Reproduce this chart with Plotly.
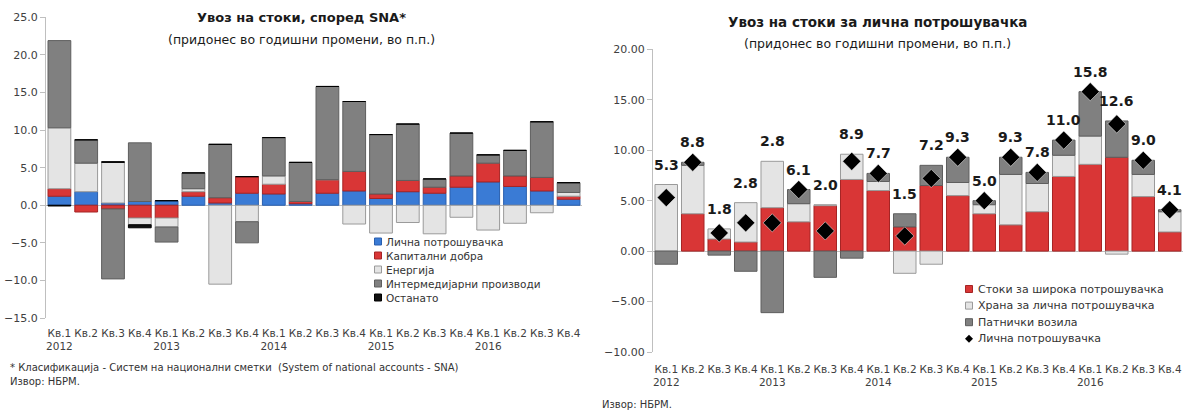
import plotly.graph_objects as go

# ---------------- data ----------------
quarters = ["Кв.1", "Кв.2", "Кв.3", "Кв.4"] * 5
years = ["2012", "", "", "", "2013", "", "", "", "2014", "", "", "",
         "2015", "", "", "", "2016", "", "", ""]

# Imports of goods by SNA classification (contribution, p.p.)
sna_consumption = [1.2, 1.8, 0.3, 0.5, 0.6, 1.2, 0.3, 1.6, 1.5, 0.2,
                   1.6, 1.9, 0.9, 1.8, 1.6, 2.4, 3.1, 2.5, 1.9, 0.8]
sna_capital = [1.0, -0.9, -0.5, -1.7, -1.7, 0.6, 0.7, 2.2, 1.3, 0.3,
               1.8, 2.6, 0.6, 1.5, 0.8, 1.5, 2.5, 1.4, 1.8, 0.4]
sna_energy = [8.1, 3.8, 5.4, -0.9, -1.2, 0.4, -10.5, -2.2, 1.1, 0.0,
              0.0, -2.5, -3.7, -2.3, -3.8, -1.6, -3.3, -2.4, -1.0, 0.5]
sna_intermediate = [11.6, 3.1, -9.3, 7.8, -2.0, 2.1, 7.1, -2.8, 5.1, 5.2,
                    12.4, 9.3, 7.9, 7.5, 1.1, 5.7, 1.1, 3.4, 7.4, 1.3]
sna_other = [-0.1, 0.0, 0.1, -0.4, 0.0, 0.0, 0.0, 0.0, 0.0, 0.0,
             0.0, 0.0, 0.0, 0.0, 0.0, 0.0, 0.0, 0.0, 0.0, 0.0]

# Imports of goods for personal consumption (contribution, p.p.)
pc_durables = [0.0, 3.7, 1.2, 0.9, 4.3, 2.9, 4.5, 7.1, 6.0, 2.4,
               6.5, 5.5, 3.7, 2.6, 3.9, 7.4, 8.6, 9.3, 5.4, 1.9]
pc_food = [6.6, 4.8, 1.0, 3.9, 4.6, 1.8, 0.1, 2.5, 0.9, -2.2,
           -1.3, 1.3, 0.9, 5.0, 2.8, 2.1, 2.8, -0.3, 2.2, 2.0]
pc_vehicles = [-1.3, 0.3, -0.4, -2.0, -6.1, 1.4, -2.6, -0.7, 0.8, 1.3,
               2.0, 2.5, 0.4, 1.7, 1.1, 1.5, 4.4, 3.6, 1.4, 0.2]
pc_total = [5.3, 8.8, 1.8, 2.8, 2.8, 6.1, 2.0, 8.9, 7.7, 1.5,
            7.2, 9.3, 5.0, 9.3, 7.8, 11.0, 15.8, 12.6, 9.0, 4.1]

# ---------------- styling ----------------
FONT = "DejaVu Sans"
TXT = "#404040"
AX = "#BFBFBF"
W, H = 1186, 412


def px(xp):
    return xp / W


def py(yp):
    return 1 - yp / H


x = list(range(len(quarters)))
ticktext = [q + "<br>" + (y if y else " ") for q, y in zip(quarters, years)]

fig = go.Figure()

left_series = [
    ("Лична потрошувачка", sna_consumption, "#3A7BD5", "#2A5FAE"),
    ("Капитални добра", sna_capital, "#D93636", "#A52424"),
    ("Енергија", sna_energy, "#E4E4E4", "#9A9A9A"),
    ("Интермедијарни производи", sna_intermediate, "#808080", "#5E5E5E"),
    ("Останато", sna_other, "#111111", "#000000"),
]
for name, vals, col, edge in left_series:
    fig.add_trace(go.Bar(
        x=x, y=vals, name=name, xaxis="x", yaxis="y",
        marker=dict(color=col, line=dict(color=edge, width=1)),
        showlegend=False, hoverinfo="skip",
    ))

right_series = [
    ("Стоки за широка потрошувачка", pc_durables, "#D93636", "#A52424"),
    ("Храна за лична потрошувачка", pc_food, "#E4E4E4", "#9A9A9A"),
    ("Патнички возила", pc_vehicles, "#808080", "#5E5E5E"),
]
for name, vals, col, edge in right_series:
    fig.add_trace(go.Bar(
        x=x, y=vals, name=name, xaxis="x2", yaxis="y2",
        marker=dict(color=col, line=dict(color=edge, width=1)),
        showlegend=False, hoverinfo="skip",
    ))

fig.add_trace(go.Scatter(
    x=x, y=pc_total, name="Лична потрошувачка", mode="markers",
    xaxis="x2", yaxis="y2", showlegend=False,
    marker=dict(symbol="diamond", size=14, color="#000000",
                line=dict(color="#FFFFFF", width=0.5)),
    hoverinfo="skip",
))

# value labels above each stacked column
annotations = []
for i, tot in enumerate(pc_total):
    pos_top = sum(v for v in (pc_durables[i], pc_food[i], pc_vehicles[i]) if v > 0)
    annotations.append(dict(
        x=i, y=max(tot, pos_top), xref="x2", yref="y2",
        text=f"<b>{tot:.1f}</b>", showarrow=False, yanchor="bottom", yshift=10,
        font=dict(family=FONT, size=14, color="#1A1A1A"),
    ))

annotations += [
    dict(text="<b>Увоз на стоки, според SNA*</b>", x=px(301), y=py(18),
         xref="paper", yref="paper", showarrow=False, xanchor="center", yanchor="middle",
         font=dict(family=FONT, size=13, color="#1A1A1A")),
    dict(text="(придонес во годишни промени, во п.п.)", x=px(301), y=py(40),
         xref="paper", yref="paper", showarrow=False, xanchor="center", yanchor="middle",
         font=dict(family=FONT, size=12.5, color="#1A1A1A")),
    dict(text="<b>Увоз на стоки за лична потрошувачка</b>", x=px(877), y=py(22),
         xref="paper", yref="paper", showarrow=False, xanchor="center", yanchor="middle",
         font=dict(family=FONT, size=13.5, color="#1A1A1A")),
    dict(text="(придонес во годишни промени, во п.п.)", x=px(877), y=py(44),
         xref="paper", yref="paper", showarrow=False, xanchor="center", yanchor="middle",
         font=dict(family=FONT, size=12.5, color="#1A1A1A")),
    dict(text="* Класификација - Систем на национални сметки  (System of national accounts - SNA)",
         x=px(8), y=py(367), xref="paper", yref="paper", showarrow=False,
         xanchor="left", yanchor="middle", font=dict(family=FONT, size=10, color="#333333")),
    dict(text="Извор: НБРМ.", x=px(8), y=py(381), xref="paper", yref="paper",
         showarrow=False, xanchor="left", yanchor="middle",
         font=dict(family=FONT, size=10, color="#333333")),
    dict(text="Извор: НБРМ.", x=px(600), y=py(404), xref="paper", yref="paper",
         showarrow=False, xanchor="left", yanchor="middle",
         font=dict(family=FONT, size=10, color="#333333")),
]

# compact legends: small swatches with labels
shapes = []


def legend_block(entries, x_mark, y_first, step, fsize, size=7):
    for k, (name, col, edge, kind) in enumerate(entries):
        yc = y_first + k * step
        if kind == "square":
            shapes.append(dict(
                type="rect", xref="paper", yref="paper",
                x0=px(x_mark - size / 2), x1=px(x_mark + size / 2),
                y0=py(yc + size / 2), y1=py(yc - size / 2),
                fillcolor=col, line=dict(color=edge, width=1),
            ))
        else:
            r = size / 2 + 0.5
            path = (f"M {px(x_mark - r)} {py(yc)} L {px(x_mark)} {py(yc - r)} "
                    f"L {px(x_mark + r)} {py(yc)} L {px(x_mark)} {py(yc + r)} Z")
            shapes.append(dict(type="path", xref="paper", yref="paper", path=path,
                               fillcolor=col, line=dict(color=col, width=0)))
        annotations.append(dict(
            text=name, x=px(x_mark + size / 2 + 3), y=py(yc), xref="paper", yref="paper",
            showarrow=False, xanchor="left", yanchor="middle",
            font=dict(family=FONT, size=fsize, color="#333333"),
        ))


legend_block([(n, c, e, "square") for n, _, c, e in left_series], 378, 241.5, 14, 10.5)
legend_block([(n, c, e, "square") for n, _, c, e in right_series]
             + [("Лична потрошувачка", "#000000", "#000000", "diamond")],
             969, 289, 16.6, 11)

common_x = dict(
    tickmode="array", tickvals=x, ticktext=ticktext, showgrid=False,
    showline=False, zeroline=False, ticks="", tickangle=0, automargin=False,
    tickfont=dict(family=FONT, size=10.5, color=TXT), range=[-0.5, 19.5],
)
common_y = dict(
    showgrid=False, showline=True, linecolor=AX, linewidth=1,
    ticks="outside", ticklen=5, tickcolor=AX, zeroline=True,
    zerolinecolor=AX, zerolinewidth=1, automargin=False,
    tickfont=dict(family=FONT, size=11, color=TXT),
)

fig.update_layout(
    width=W, height=H, margin=dict(l=0, r=0, t=0, b=0),
    paper_bgcolor="white", plot_bgcolor="white",
    barmode="relative", bargap=0.15, showlegend=False,
    xaxis=dict(domain=[px(46), px(582)], anchor="y", ticklabelstandoff=7, **common_x),
    yaxis=dict(domain=[py(318), py(17.3)], anchor="x", range=[-15, 25], dtick=5,
               tickformat=".1f", **common_y),
    xaxis2=dict(domain=[px(653), px(1183)], anchor="y2", ticklabelstandoff=9, **common_x),
    yaxis2=dict(domain=[py(352), py(49.3)], anchor="x2", range=[-10, 20], dtick=5,
                tickformat=".2f", **common_y),
    annotations=annotations,
    shapes=shapes,
)

fig.write_html("out.html")
